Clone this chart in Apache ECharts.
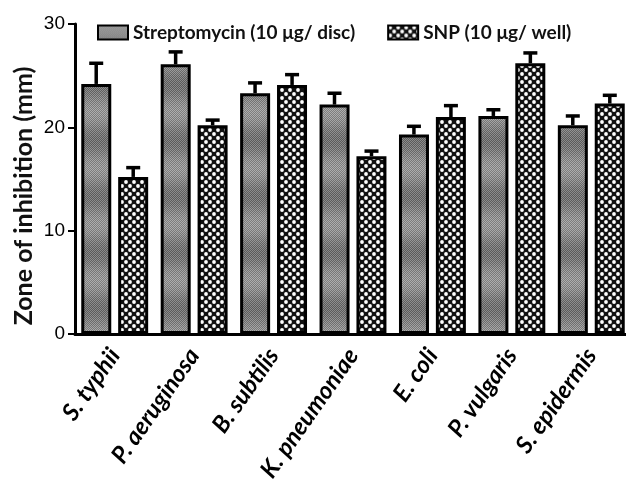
<!DOCTYPE html>
<html><head><meta charset="utf-8">
<script src="https://cdn.jsdelivr.net/npm/echarts@6/dist/echarts.min.js"></script>
<style>html,body{margin:0;padding:0;background:#fff}#c{width:626px;height:481px}</style>
</head><body><div id="c"></div>
<script>
const categories = ['S. typhii','P. aeruginosa','B. subtilis','K. pneumoniae','E. coli','P. vulgaris','S. epidermis'];
const seriesNames = ['Streptomycin (10 μg/ disc)','SNP (10 μg/ well)'];
const strepValues = [24.2, 26.1, 23.3, 22.2, 19.3, 21.1, 20.2];
const strepErrors = [2.0, 1.2, 1.0, 1.1, 0.8, 0.6, 0.9];
const snpValues = [15.2, 20.2, 24.1, 17.2, 21.0, 26.2, 22.3];
const snpErrors = [0.9, 0.5, 1.0, 0.5, 1.1, 1.0, 0.8];
const yTicks = [0, 10, 20, 30];
const yTitle = 'Zone of inhibition (mm)';

function strepPattern(){
  const c = document.createElement('canvas'); c.width = 4; c.height = 56;
  const ctx = c.getContext('2d'); const img = ctx.createImageData(4, 56);
  for (let y = 0; y < 56; y++) for (let x = 0; x < 4; x++) {
    let g = 132 + 18 * Math.cos(2 * Math.PI * y / 56);
    g += ((x + y) % 2 === 0) ? 24 : -24;
    const i = (y * 4 + x) * 4;
    img.data[i] = img.data[i+1] = img.data[i+2] = Math.max(0, Math.min(255, g)); img.data[i+3] = 255;
  }
  ctx.putImageData(img, 0, 0); return c;
}
function snpPattern(){
  const c = document.createElement('canvas'); c.width = 8; c.height = 8;
  const ctx = c.getContext('2d');
  ctx.fillStyle = '#111'; ctx.fillRect(0, 0, 8, 8);
  ctx.fillStyle = '#fff';
  ctx.beginPath(); ctx.arc(2, 2, 1.9, 0, Math.PI * 2); ctx.fill();
  ctx.beginPath(); ctx.arc(6, 6, 1.9, 0, Math.PI * 2); ctx.fill();
  return c;
}
const strepFill = { image: strepPattern(), repeat: 'repeat' };
const snpFill = { image: snpPattern(), repeat: 'repeat' };

const BAR_W = 30, OFFSET = 18.5;
function errSeries(values, errors, offset){
  return {
    type: 'custom', z: 5, silent: true,
    data: values.map((v, i) => [i, v, errors[i]]),
    renderItem: function(params, api){
      const i = api.value(0), v = api.value(1), e = api.value(2);
      const p0 = api.coord([i, v]); const p1 = api.coord([i, v + e]);
      const x = p0[0] + offset;
      const st = { stroke: '#000', lineWidth: 3.5 };
      return { type: 'group', children: [
        { type: 'line', shape: { x1: x, y1: p0[1], x2: x, y2: p1[1] }, style: st },
        { type: 'line', shape: { x1: x - 7, y1: p1[1], x2: x + 7, y2: p1[1] }, style: st }
      ]};
    }
  };
}

const chart = echarts.init(document.getElementById('c'));
chart.setOption({
  animation: false,
  backgroundColor: '#fff',
  graphic: [{
    type: 'text', x: 24, y: 196, rotation: Math.PI / 2,
    style: { text: yTitle, fontFamily: 'Lato', fontWeight: 'bold', fontSize: 25, fill: '#111',
      align: 'center', verticalAlign: 'middle' }
  }],
  legend: {
    top: 18, left: 92, itemWidth: 30, itemHeight: 14, itemGap: 32, icon: 'rect',
    data: seriesNames,
    textStyle: { fontFamily: 'Lato', fontWeight: 'bold', fontSize: 19, color: '#111' }
  },
  grid: { left: 75, right: -5, top: 24, bottom: 147, containLabel: false, outerBoundsMode: 'none' },
  xAxis: {
    type: 'category', data: categories,
    axisLine: { lineStyle: { color: '#000', width: 3 } },
    axisTick: { alignWithLabel: true, length: 8, lineStyle: { color: '#000', width: 2 } },
    axisLabel: { rotate: 55, interval: 0, margin: 17, color: '#000', fontFamily: 'Lato', fontStyle: 'italic', fontWeight: 'bold', fontSize: 24 }
  },
  yAxis: {
    type: 'value', min: 0, max: 30, interval: 10,
    axisLine: { show: true, lineStyle: { color: '#000', width: 3 } },
    axisTick: { show: true, length: 7, lineStyle: { color: '#000', width: 2 } },
    splitLine: { show: false },
    axisLabel: { margin: 10, color: '#000', fontFamily: 'Liberation Sans', fontSize: 19 }
  },
  series: [
    { name: seriesNames[0], type: 'bar', data: strepValues, barWidth: BAR_W, barGap: '23%',
      itemStyle: { color: strepFill, borderColor: '#000', borderWidth: 3 } },
    { name: seriesNames[1], type: 'bar', data: snpValues, barWidth: BAR_W, barGap: '23%',
      itemStyle: { color: snpFill, borderColor: '#000', borderWidth: 3 } },
    errSeries(strepValues, strepErrors, -OFFSET),
    errSeries(snpValues, snpErrors, OFFSET)
  ]
});
</script></body></html>
